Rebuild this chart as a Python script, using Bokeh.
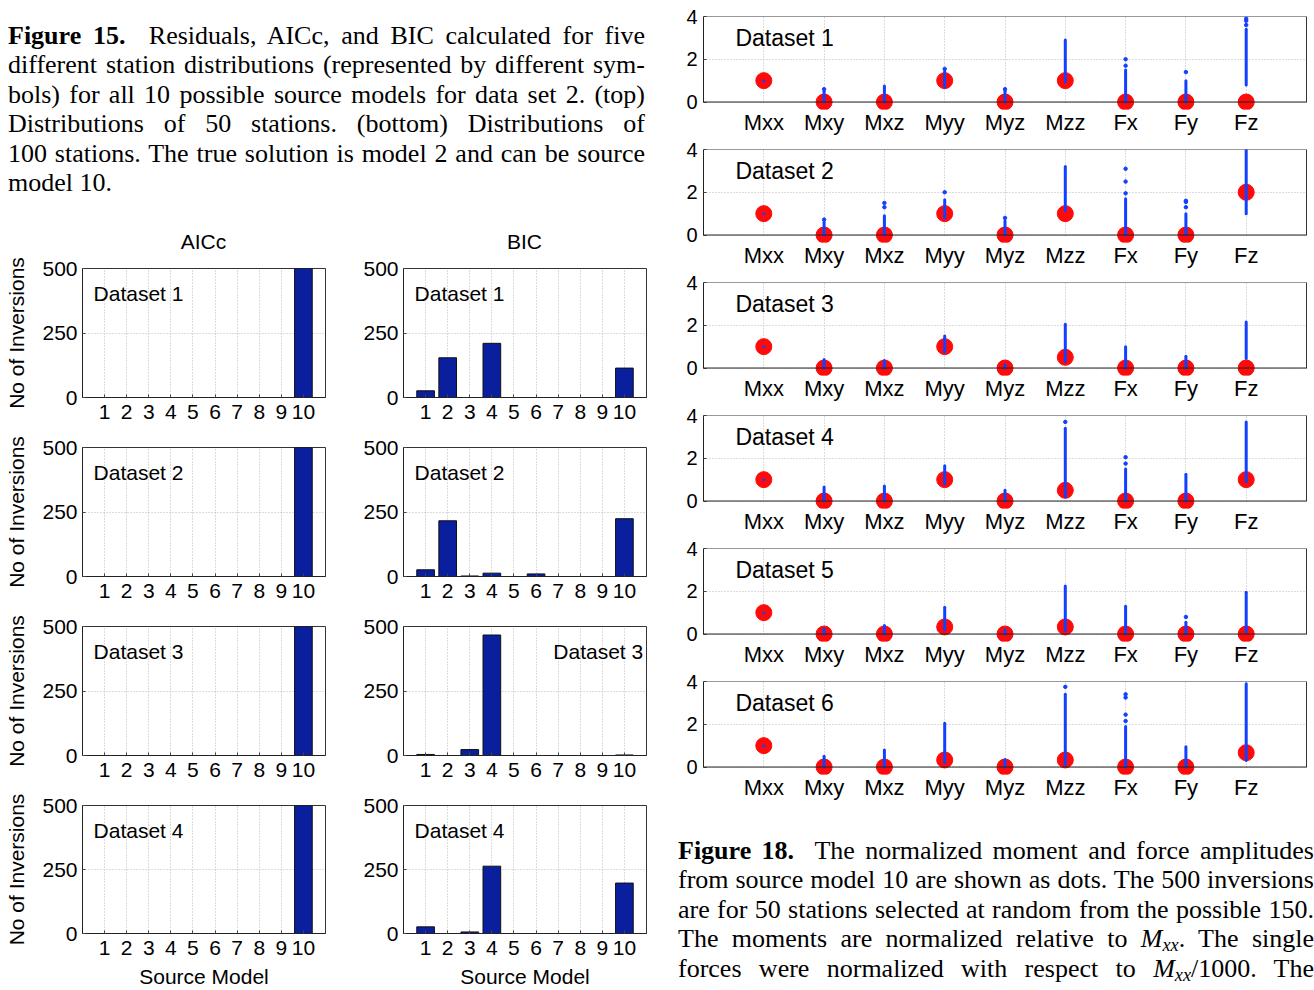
from bokeh.plotting import figure
from bokeh.layouts import row, column
from bokeh.models import Div, Label, FixedTicker, Range1d, Span, LinearAxis, Grid, Spacer
from bokeh.embed import file_html
from bokeh.resources import INLINE

SANS = "Liberation Sans"
BAR_COLOR = "#0a1f9e"
RED = "#ff0a0a"
BLUE = "#1240ff"

# ---------------- Figure 15 data (number of inversions per source model) ----
models = [1, 2, 3, 4, 5, 6, 7, 8, 9, 10]
bar_datasets = ["Dataset 1", "Dataset 2", "Dataset 3", "Dataset 4"]
column_titles = ["AICc", "BIC"]
aicc_d1 = [0, 0, 0, 0, 0, 0, 0, 0, 0, 500]
aicc_d2 = [0, 0, 0, 0, 0, 0, 0, 0, 0, 500]
aicc_d3 = [0, 0, 0, 0, 0, 0, 0, 0, 0, 500]
aicc_d4 = [0, 0, 0, 0, 0, 0, 0, 0, 0, 500]
bic_d1 = [26, 154, 0, 210, 0, 0, 0, 0, 0, 114]
bic_d2 = [26, 216, 2, 13, 0, 10, 0, 0, 0, 224]
bic_d3 = [4, 0, 23, 467, 0, 0, 0, 0, 0, 2]
bic_d4 = [26, 0, 6, 263, 0, 0, 0, 0, 0, 197]
count_ticks = [0, 250, 500]

# ---------------- Figure 18 data (normalized amplitudes) --------------------
components = ["Mxx", "Mxy", "Mxz", "Myy", "Myz", "Mzz", "Fx", "Fy", "Fz"]
amp_datasets = ["Dataset 1", "Dataset 2", "Dataset 3", "Dataset 4", "Dataset 5", "Dataset 6"]
true_vals = [
    [1, 0, 0, 1, 0, 1, 0, 0, 0],
    [1, 0, 0, 1, 0, 1, 0, 0, 2],
    [1, 0, 0, 1, 0, 0.5, 0, 0, 0],
    [1, 0, 0, 1, 0, 0.5, 0, 0, 1],
    [1, 0, 0, 0.33, 0, 0.33, 0, 0, 0],
    [1, 0, 0, 0.33, 0, 0.33, 0, 0, 0.67],
]
inv_low = [
    [1, 0, 0, 0.7, 0, 0.95, 0, 0, 0.8],
    [1, 0, 0, 0.8, 0, 1.15, 0, 0, 1.0],
    [1, 0, 0, 0.75, 0, 0.3, 0, 0, 0.45],
    [1, 0, 0, 0.8, 0, 0.2, 0, 0, 0.9],
    [1, 0, 0, 0.2, 0, 0.15, 0, 0, 0.1],
    [1, 0, 0, 0.2, 0, 0.1, 0, 0, 0.3],
]
inv_high = [
    [1, 0.5, 0.75, 1.45, 0.5, 2.9, 1.5, 1.0, 3.4],
    [1, 0.6, 0.9, 1.65, 0.65, 3.2, 1.7, 1.0, 4.0],
    [1, 0.4, 0.35, 1.5, 0.15, 2.05, 1.0, 0.55, 2.15],
    [1, 0.65, 0.7, 1.65, 0.5, 3.4, 1.5, 1.25, 3.7],
    [1, 0.25, 0.4, 1.25, 0.2, 2.25, 1.3, 0.55, 1.95],
    [1, 0.5, 0.8, 2.05, 0.35, 3.4, 1.9, 0.95, 3.9],
]
outlier_comp = [
    ["Mxy", "Myy", "Myz", "Fx", "Fx", "Fy", "Fz", "Fz", "Fz"],
    ["Mxy", "Mxz", "Mxz", "Myy", "Myz", "Fx", "Fx", "Fx", "Fy", "Fy", "Fy"],
    [],
    ["Mzz", "Fx", "Fx"],
    ["Fy"],
    ["Mzz", "Fx", "Fx", "Fx", "Fx"],
]
outlier_val = [
    [0.6, 1.55, 0.6, 1.7, 2.0, 1.4, 3.6, 3.8, 3.9],
    [0.72, 1.3, 1.5, 2.0, 0.8, 1.95, 2.5, 3.1, 1.3, 1.55, 1.6],
    [],
    [3.7, 1.75, 2.05],
    [0.8],
    [3.75, 2.15, 2.45, 3.25, 3.4],
]
amp_ticks = [0, 2, 4]
amp_min, amp_max = 0, 4

GRID_HAS_CROSS = "cross_bounds" in Grid.properties()


def style(p, fs):
    for ax in (p.xaxis[0], p.yaxis[0]):
        ax.major_label_text_font = SANS
        ax.major_label_text_font_size = fs
        ax.major_label_text_color = "black"
        ax.axis_line_color = "#222222"
        ax.major_tick_in = 3
        ax.major_tick_out = 0
        ax.major_tick_line_color = "#444444"
        ax.minor_tick_line_color = None
        ax.axis_label_text_font = SANS
        ax.axis_label_text_font_style = "normal"
        ax.axis_label_text_font_size = fs
        ax.axis_label_text_color = "black"
    p.grid.grid_line_color = "#b8b8b8"
    p.grid.grid_line_dash = "1 2"
    p.outline_line_color = "#333333"
    p.background_fill_color = "white"
    p.border_fill_color = "white"


def bar_fig(counts, name, w, h, bl, br, bt, bb, ylabel=False,
            xlabel=False, label_right=False):
    p = figure(width=w, height=h, x_range=Range1d(0, 11), y_range=Range1d(0, 500),
               output_backend="svg", toolbar_location=None,
               min_border_left=bl, min_border_right=br,
               min_border_top=bt, min_border_bottom=bb)
    p.vbar(x=models, top=counts, width=0.8, fill_color=BAR_COLOR,
           line_color="#111111", line_width=1)
    style(p, "21px")
    p.xaxis.ticker = FixedTicker(ticks=models)
    p.yaxis.ticker = FixedTicker(ticks=count_ticks)
    p.xaxis.major_label_standoff = 7
    p.yaxis.major_label_standoff = 5
    if ylabel:
        p.yaxis.axis_label = "No of Inversions"
        p.yaxis.axis_label_standoff = 11
        p.yaxis.axis_label_text_font_size = "21px"
    if xlabel:
        p.xaxis.axis_label = "Source Model"
        p.xaxis.axis_label_standoff = 7
    if label_right:
        lab = Label(x=10.85, y=403, text=name, text_align="right")
    else:
        lab = Label(x=0.5, y=403, text=name, text_align="left")
    lab.text_baseline = "middle"
    lab.text_font = SANS
    lab.text_font_size = "21px"
    lab.text_color = "black"
    p.add_layout(lab)
    return p


def amp_fig(i):
    # y range extends a little below 0 so that the dots at 0 are not cut off
    p = figure(width=654, height=133, x_range=Range1d(0, 10), y_range=Range1d(-0.35, amp_max),
               output_backend="svg", toolbar_location=None,
               min_border_left=43, min_border_right=8,
               min_border_top=12, min_border_bottom=28)
    xs = list(range(1, len(components) + 1))
    style(p, "22px")
    p.outline_line_color = None
    p.xaxis.axis_line_color = None
    p.xaxis.major_tick_line_color = None
    p.yaxis.bounds = (amp_min, amp_max)
    if GRID_HAS_CROSS:
        p.xgrid.cross_bounds = (amp_min, amp_max)
    p.add_layout(Span(location=amp_min, dimension="width", line_color="#222222", line_width=1))
    p.add_layout(Span(location=amp_max, dimension="width", line_color="#333333", line_width=1))

    p.scatter(x=xs, y=true_vals[i], size=16, fill_color=RED, line_color=RED)
    p.segment(x0=xs, y0=inv_low[i], x1=xs, y1=inv_high[i], line_color=BLUE,
              line_width=3, line_cap="round")
    ox = [components.index(c) + 1 for c in outlier_comp[i]]
    p.scatter(x=ox, y=outlier_val[i], size=3.5, fill_color=BLUE, line_color=BLUE)

    p.xaxis.ticker = FixedTicker(ticks=xs)
    p.xaxis.major_label_overrides = {k: c for k, c in zip(xs, components)}
    p.xaxis.major_label_standoff = 0
    yax = p.yaxis[0]
    yax.ticker = FixedTicker(ticks=amp_ticks)
    yax.major_label_text_font_size = "20px"
    yax.major_label_standoff = 6
    lab = Label(x=0.53, y=3.0, text=amp_datasets[i], text_align="left",
                text_baseline="middle", text_font=SANS, text_font_size="23px",
                text_color="black")
    p.add_layout(lab)
    # right edge of the box (no labels)
    rax = LinearAxis(ticker=FixedTicker(ticks=[]), bounds=(amp_min, amp_max),
                     axis_line_color="#333333", major_tick_line_color=None,
                     minor_tick_line_color=None, major_label_text_font_size="0px",
                     major_label_standoff=0, major_tick_in=0, major_tick_out=0)
    p.add_layout(rax, "right")
    return p


J = "<div style='text-align:justify; text-align-last:justify'>"
SUB = "<sub style='font-size:0.7em; line-height:0; vertical-align:-0.2em'><i>xx</i></sub>"
CAP = ("font-family:'Liberation Serif'; font-size:26px; line-height:29.4px;"
       " color:black; box-sizing:content-box;")

left_caption = Div(width=660, height=222, margin=(0, 0, 0, 0), text=(
    "<div style=\"" + CAP + " padding:21px 0 0 8px; width:637px;\">"
    + J + "<b>Figure 15.</b>&nbsp; Residuals, AICc, and BIC calculated for five</div>"
    + J + "different station distributions (represented by different sym-</div>"
    + J + "bols) for all 10 possible source models for data set 2. (top)</div>"
    + J + "Distributions of 50 stations. (bottom) Distributions of</div>"
    + J + "100 stations. The true solution is model 2 and can be source</div>"
    "<div>model 10.</div></div>"))


def title_div(text, w, pad_left):
    return Div(width=w, height=34, margin=(0, 0, 0, 0), text=(
        "<div style=\"font-family:'Liberation Sans'; font-size:21px; line-height:24px;"
        " color:black; box-sizing:content-box; text-align:center;"
        " padding:8px 0 0 " + str(pad_left) + "px; width:243px;\">" + text + "</div>"))


titles_row = row(title_div(column_titles[0], 343, 82),
                 title_div(column_titles[1], 316, 60), spacing=0)

right_caption = Div(width=654, height=186, margin=(0, 0, 0, 0), text=(
    "<div style=\"" + CAP + " padding:34px 0 0 18px; width:636px;\">"
    + J + "<b>Figure 18.</b>&nbsp; The normalized moment and force amplitudes</div>"
    + J + "from source model 10 are shown as dots. The 500 inversions</div>"
    + J + "are for 50 stations selected at random from the possible 150.</div>"
    + J + "The moments are normalized relative to <i>M</i>" + SUB + ". The single</div>"
    + J + "forces were normalized with respect to <i>M</i>" + SUB + "/1000. The</div>"
    "</div>"))

aicc = [aicc_d1, aicc_d2, aicc_d3, aicc_d4]
bic = [bic_d1, bic_d2, bic_d3, bic_d4]
rows = []
for k in range(4):
    if k == 0:
        h, bt, bb = 173, 12, 32
    elif k == 3:
        h, bt, bb = 203, 18, 56
    else:
        h, bt, bb = 179, 18, 32
    a = bar_fig(aicc[k], bar_datasets[k], 343, h, 82, 18, bt, bb,
                ylabel=True, xlabel=(k == 3))
    b = bar_fig(bic[k], bar_datasets[k], 316, h, 60, 13, bt, bb,
                xlabel=(k == 3), label_right=(k == 2))
    rows.append(row(a, b, spacing=0))

left = column(left_caption, titles_row, *rows, spacing=0)
right = column(Spacer(width=654, height=4, margin=(0, 0, 0, 0)),
               *[amp_fig(i) for i in range(6)], right_caption, spacing=0)
page = row(left, right, spacing=0)

open("out.html", "w").write(file_html(page, INLINE))
